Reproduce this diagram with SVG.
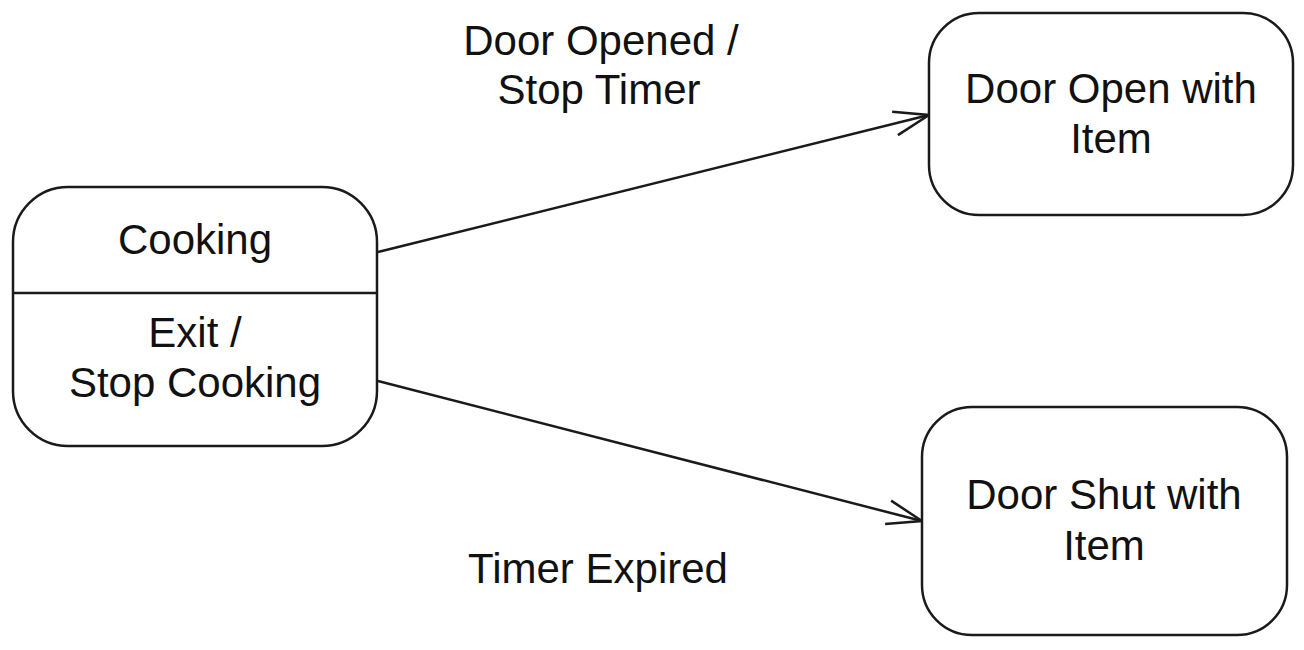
<svg xmlns="http://www.w3.org/2000/svg" width="1304" height="650" viewBox="0 0 1304 650">
<style>
.box{fill:#fff;stroke:#1a1a1a;stroke-width:2.5}
.ln{fill:none;stroke:#1a1a1a;stroke-width:2.5}
text{font-family:"Liberation Sans",Arial,sans-serif;font-size:42px;fill:#111;text-anchor:middle}
</style>
<defs>
<marker id="arr" viewBox="0 0 38 28" refX="36" refY="14" markerWidth="38" markerHeight="28" markerUnits="userSpaceOnUse" orient="auto">
<path d="M1,2 L36,14 L1,26" fill="none" stroke="#1a1a1a" stroke-width="2.5" stroke-linejoin="miter"/>
</marker>
</defs>
<rect width="1304" height="650" fill="#fff"/>
<g id="connectors">
<line class="ln" x1="378" y1="252" x2="929" y2="115" marker-end="url(#arr)"/>
<line class="ln" x1="378" y1="381" x2="922" y2="521" marker-end="url(#arr)"/>
<text x="601" y="55">Door Opened /</text>
<text x="599" y="104">Stop Timer</text>
<text x="598" y="583">Timer Expired</text>
</g>
<g id="cooking">
<rect class="box" x="13" y="187" width="364" height="259" rx="55" ry="55"/>
<line class="ln" x1="13" y1="293" x2="377" y2="293"/>
<text x="195" y="254">Cooking</text>
<text x="195" y="347">Exit /</text>
<text x="195" y="397">Stop Cooking</text>
</g>
<g id="door-open">
<rect class="box" x="929" y="13" width="364" height="202" rx="50" ry="50"/>
<text x="1111" y="103">Door Open with</text>
<text x="1111" y="153">Item</text>
</g>
<g id="door-shut">
<rect class="box" x="922" y="407" width="365" height="228" rx="50" ry="50"/>
<text x="1104" y="509">Door Shut with</text>
<text x="1104" y="560">Item</text>
</g>
</svg>
